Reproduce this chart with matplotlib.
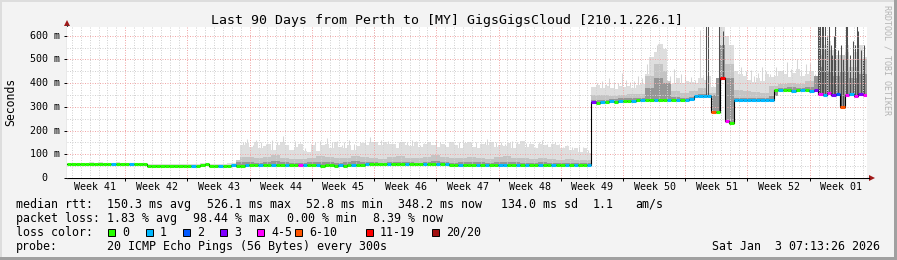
import numpy as np
import matplotlib
matplotlib.use("Agg")
from matplotlib import pyplot as plt
from matplotlib.patches import Rectangle, Polygon

# half-day samples, day 0 = Sun Oct 5 07:13, 90 days total
rtt_median = [
    58, 58, 58, 59, 58, 58, 58, 58, 58, 59, 58, 58, 58, 58,
    58, 58, 58, 58, 52, 52, 52, 52, 52, 52, 52, 52, 52, 52,
    52, 52, 53, 57, 52, 52, 52, 52, 52, 53, 52, 52, 53, 55,
    55, 55, 54, 56, 55, 55, 54, 55, 56, 55, 55, 54, 53, 53,
    53, 52, 55, 53, 52, 54, 52, 53, 54, 53, 56, 57, 58, 58,
    58, 57, 58, 58, 57, 58, 59, 58, 58, 57, 58, 58, 58, 57,
    58, 57, 56, 55, 55, 54, 55, 54, 55, 55, 54, 55, 54, 54,
    55, 54, 54, 55, 55, 54, 54, 55, 54, 55, 54, 55, 55, 54,
    54, 55, 54, 55, 55, 56, 320, 318, 320, 322, 323, 322, 324, 325,
    326, 325, 327, 329, 330, 328, 327, 329, 330, 328, 327, 329, 331, 330,
    332, 344, 345, 346, 344, 278, 278, 420, 240, 232, 329, 329, 328, 329,
    329, 330, 328, 329, 330, 371, 370, 372, 371, 369, 370, 372, 371, 369,
    370, 356, 352, 358, 349, 355, 300, 350, 353, 346, 356, 352,
]

# lost pings (of 20) per sample
loss_count = [
    0, 0, 0, 0, 0, 0, 0, 0, 0, 0, 1, 0, 0, 0,
    1, 0, 0, 0, 0, 0, 0, 0, 0, 0, 0, 0, 0, 0,
    1, 0, 0, 0, 0, 0, 1, 0, 0, 1, 0, 0, 1, 0,
    0, 1, 0, 0, 1, 0, 0, 1, 0, 0, 4, 1, 0, 0,
    1, 0, 0, 0, 0, 1, 0, 0, 1, 0, 0, 1, 0, 0,
    0, 0, 1, 0, 0, 0, 1, 0, 0, 0, 1, 0, 0, 1,
    0, 1, 0, 0, 1, 0, 0, 0, 1, 0, 1, 0, 0, 1,
    1, 0, 0, 1, 0, 1, 0, 0, 1, 0, 0, 1, 0, 0,
    1, 0, 1, 0, 0, 1, 3, 0, 1, 0, 1, 0, 1, 0,
    0, 1, 0, 1, 0, 0, 1, 0, 0, 1, 0, 1, 0, 1,
    1, 1, 1, 1, 1, 6, 0, 12, 4, 0, 1, 1, 1, 1,
    1, 1, 1, 1, 1, 0, 1, 0, 0, 1, 0, 1, 0, 1,
    3, 4, 1, 4, 3, 2, 6, 4, 1, 4, 3, 4,
]

# slowest ping per half day (ms)
smoke_top = [
    62, 63, 62, 64, 63, 66, 64, 68, 65, 64, 63, 66, 63, 62,
    63, 62, 64, 63, 58, 57, 58, 59, 57, 58, 60, 58, 57, 58,
    59, 58, 62, 64, 58, 57, 59, 60, 62, 64, 75, 140, 148, 132,
    152, 128, 135, 142, 120, 138, 150, 140, 118, 132, 145, 112, 110, 138,
    115, 138, 145, 126, 150, 132, 128, 140, 120, 135, 148, 140, 150, 150,
    138, 150, 142, 142, 128, 150, 140, 135, 150, 130, 145, 150, 138, 132,
    145, 130, 150, 138, 125, 148, 150, 132, 128, 145, 138, 152, 130, 140,
    135, 148, 128, 145, 155, 130, 142, 125, 145, 138, 132, 145, 140, 128,
    135, 120, 128, 110, 125, 105, 385, 392, 378, 388, 380, 375, 390, 383,
    388, 380, 392, 398, 440, 510, 530, 565, 545, 410, 395, 420, 400, 410,
    405, 400, 420, 415, 430, 385, 420, 645, 600, 560, 450, 440, 430, 415,
    405, 420, 410, 440, 425, 430, 450, 440, 425, 445, 460, 430, 440, 450,
    430, 600, 560, 580, 540, 520, 520, 560, 500, 530, 560, 510,
]

# daily smoke levels (ms)
smoke_mid = [
    61, 61, 61, 62, 61, 62, 62, 63, 62, 55, 55, 55, 55, 55, 55, 56, 55, 55, 56,
    90,
    88, 84, 90, 95, 86, 82, 80, 86, 92, 88, 84, 86, 94, 90, 85, 82, 88, 92, 86, 84,
    90, 95, 88, 84, 86, 90, 85, 82, 88, 91, 86, 84, 80, 86, 82, 78, 80, 77, 75,
    352, 350, 348, 352, 356, 354,
    430, 480, 450,
    365, 360, 368, 378, 360,
    560, 480,
    370, 365, 362, 360, 390,
    398, 402, 396, 408,
    520, 540, 500, 530, 470, 500,
]
smoke_dark = [
    59, 59, 59, 60, 59, 60, 60, 60, 60, 53, 53, 53, 53, 53, 53, 55, 53, 53, 54,
    66,
    66, 65, 68, 70, 66, 65, 64, 66, 69, 67, 64, 66, 70, 68, 66, 65, 67, 69, 66, 65,
    68, 70, 67, 65, 66, 68, 66, 64, 67, 69, 66, 65, 64, 66, 64, 62, 63, 62, 62,
    330, 328, 332, 336, 338, 337,
    380, 420, 400,
    340, 338, 342, 356, 350,
    640, 420,
    338, 336, 336, 337, 345,
    380, 382, 378, 384,
    470, 450, 430, 450, 420, 440,
]

# single slow pings sticking out of the smoke
spike_day = [19.8, 20.3, 20.9, 21.3, 21.8, 22.4, 22.8, 23.1, 23.6, 24.3, 24.9, 25.6,
             26.2, 26.8, 27.4, 27.9, 28.5, 28.9, 29.2, 29.8, 30.4, 30.9, 31.2, 31.7,
             32.3, 32.6, 33.0, 33.5, 34.1, 34.6, 35.3, 35.8, 36.1, 36.7, 37.4, 37.9,
             38.3, 38.8, 39.3, 39.7, 40.2, 40.7, 41.1, 41.5, 42.0, 42.5, 43.0, 43.5,
             44.1, 44.5, 45.0, 45.5, 46.0, 46.5, 47.0, 47.3, 47.8, 48.3, 48.8, 49.3,
             49.7, 50.1, 50.6, 51.1, 51.6, 52.1, 52.6, 53.1, 53.4, 54.0, 54.4, 54.9,
             55.4, 55.8, 56.3, 56.8, 57.2, 57.6, 58.1, 58.6,
             59.6, 60.2, 60.6, 61.0, 61.5, 62.0, 62.4, 62.9, 63.3, 63.8, 64.2, 64.7,
             65.3, 66.4, 67.8, 68.3, 68.7, 69.1, 69.5, 70.2, 70.6, 71.2, 71.5, 72.1,
             72.7, 74.9, 75.3, 75.8, 76.4, 76.9, 77.3, 77.7, 78.2, 78.6, 79.1, 79.8,
             80.5, 81.0, 81.4, 82.1, 82.6, 83.1, 83.6, 84.1]
spike_ms = [150, 165, 138, 160, 150, 145, 130, 160, 152, 177, 140, 158,
            148, 128, 142, 150, 155, 135, 168, 150, 155, 140, 150, 162,
            145, 135, 150, 158, 171, 148, 160, 140, 157, 145, 150, 138,
            150, 162, 155, 140, 148, 150, 135, 158, 152, 140, 152, 145,
            150, 160, 140, 150, 150, 138, 150, 165, 140, 152, 150, 145,
            135, 158, 150, 140, 148, 148, 132, 150, 161, 145, 138, 150,
            142, 130, 140, 132, 125, 135, 130, 118,
            400, 410, 395, 420, 405, 400, 445, 415, 405, 410, 430, 420,
            480, 560, 430, 460, 420, 440, 430, 425, 415, 625, 430, 640,
            390, 455, 440, 470, 450, 455, 430, 445, 470, 450, 440, 470,
            455, 490, 460, 502, 450, 480, 485, 440]
dark_spike_day = [71.9, 72.1, 73.3, 73.8, 84.5, 84.6, 84.7, 84.9, 85.0, 85.1, 85.3,
                  85.5, 85.7, 85.9, 86.1, 86.3, 86.4, 86.7, 87.1, 87.3, 87.6, 87.8,
                  88.1, 88.4, 88.7, 88.9, 89.0, 89.3, 89.5, 89.7]
dark_spike_ms = [640, 645, 645, 620, 645, 645, 645, 645, 620, 645, 640,
                 600, 645, 560, 520, 600, 645, 540, 560, 500, 645, 640,
                 520, 580, 560, 645, 620, 540, 500, 560]

week_names = ["Week 41", "Week 42", "Week 43", "Week 44", "Week 45", "Week 46", "Week 47",
              "Week 48", "Week 49", "Week 50", "Week 51", "Week 52", "Week 01"]
loss_labels = ["0", "1", "2", "3", "4-5", "6-10", "11-19", "20/20"]
loss_colors = ["#26ff00", "#00b8ff", "#0059ff", "#7e00ff", "#ff00ff", "#ff5500", "#ff0000", "#a01010"]


def loss_bin(n):
    if n <= 3:
        return n
    if n <= 5:
        return 4
    if n <= 10:
        return 5
    if n <= 19:
        return 6
    return 7


MONO = "DejaVu Sans Mono"
W, H = 897, 260
fig = plt.figure(figsize=(W / 100, H / 100), dpi=100, facecolor="#f3f3f3")

ov = fig.add_axes([0, 0, 1, 1])
ov.set_xlim(0, W)
ov.set_ylim(H, 0)
ov.axis("off")

ax = fig.add_axes([67 / W, (H - 178) / H, 800 / W, 151 / H])
ax.set_xlim(0, 90)
ax.set_ylim(0, 637)
ax.set_facecolor("white")
for s in ax.spines.values():
    s.set_visible(False)

# smoke
t = np.arange(len(rtt_median)) * 0.5
te = np.append(t, 90.0)
med = np.array(rtt_median, float)
top = np.array(smoke_top, float)
mid = np.minimum(np.repeat(smoke_mid, 2), top)
dark = np.minimum(np.repeat(smoke_dark, 2), mid)


def band(hi, color):
    ax.fill_between(te, np.append(med, med[-1]), np.append(hi, hi[-1]),
                    step="post", color=color, lw=0, zorder=1)


base = med[(np.array(spike_day) * 2).astype(int)]
ax.vlines(spike_day, base, spike_ms, colors="#d6d6d6", lw=0.75, zorder=0.9)
band(top, "#dedede")
band(mid, "#c4c4c4")
band(dark, "#969696")
base = med[(np.array(dark_spike_day) * 2).astype(int)]
ax.vlines(dark_spike_day, base, dark_spike_ms, colors="#505050", lw=0.75, zorder=1.2)

# grid
major_x = np.arange(6.55, 90, 7.0)
minor_x = [d for d in np.arange(0.55, 90, 1.0) if abs((d - 6.55) % 7) > 0.01]
dots = (0, (1, 1.5))
ax.vlines(minor_x, 0, 637, colors="#d2d2d2", linestyles=dots, lw=0.72, zorder=2)
ax.hlines(np.arange(50, 637, 100), 0, 90, colors="#d2d2d2", linestyles=dots, lw=0.72, zorder=2)
ax.vlines(major_x, 0, 637, colors="#f0a8a8", linestyles=dots, lw=0.72, zorder=2.1)
ax.hlines(np.arange(100, 637, 100), 0, 90, colors="#f0a8a8", linestyles=dots, lw=0.72, zorder=2.1)

# median coloured by loss
ax.step(te, np.append(med, med[-1]), where="post", color="black", lw=0.8, zorder=3)
cols = [loss_colors[loss_bin(n)] for n in loss_count]
ax.hlines(med, t, t + 0.5, colors=cols, lw=2.2, zorder=4, capstyle="butt")

ax.set_xticks(major_x)
ax.set_yticks(np.arange(0, 601, 100))
ax.tick_params(length=2.5, width=0.7, color="black", labelbottom=False, labelleft=False)

for v in range(0, 601, 100):
    lab = "0" if v == 0 else f"{v} m"
    xoff = -19.5 / 800 if v == 0 else -7 / 800
    ax.text(xoff, v, lab, transform=ax.get_yaxis_transform(), ha="right", va="center",
            family=MONO, fontsize=7.2)
for k, name in enumerate(week_names):
    ax.text(3.1 + 7 * k, -12.5 / 151, name, transform=ax.get_xaxis_transform(),
            ha="center", va="baseline", family=MONO, fontsize=7.2)

# axes with arrows
ov.plot([67, 869], [178, 178], color="black", lw=0.8)
ov.plot([67, 67], [178, 25], color="#444444", lw=0.8)
ov.add_patch(Polygon([[869, 175], [869, 181], [875, 178]], color="#a01818", lw=0))
ov.add_patch(Polygon([[64, 26], [70, 26], [67, 20]], color="#a01818", lw=0))

# frame
ov.add_patch(Rectangle((0, 0), W, 2, color="#dddddd", lw=0))
ov.add_patch(Rectangle((0, 0), 2, H, color="#dddddd", lw=0))
ov.add_patch(Rectangle((0, H - 3), W, 3, color="#a0a0a0", lw=0))
ov.add_patch(Rectangle((W - 3, 0), 3, H, color="#a0a0a0", lw=0))

ov.text(447, 24, "Last 90 Days from Perth to [MY] GigsGigsCloud [210.1.226.1]",
        ha="center", va="baseline", family=MONO, fontsize=9.5)
ov.text(11, 102, "Seconds", rotation=90, ha="center", va="center", family=MONO, fontsize=8.3)
ov.text(887, 5, "RRDTOOL / TOBI OETIKER", rotation=270, ha="center", va="top",
        family=MONO, fontsize=6, color="#b4b4b4")

row1 = [("median rtt:", 16), ("150.3 ms avg", 107), ("526.1 ms max", 207), ("52.8 ms min", 306),
        ("348.2 ms now", 398), ("134.0 ms sd", 501), ("1.1", 593), ("am/s", 635)]
row2 = [("packet loss:", 16), ("1.83 % avg", 107), ("98.44 % max", 193), ("0.00 % min", 287),
        ("8.39 % now", 373)]
row4 = [("probe:", 16), ("20 ICMP Echo Pings (56 Bytes) every 300s", 107)]
for row, yb in [(row1, 207.7), (row2, 221.7), (row4, 249.7)]:
    for txt, x in row:
        ov.text(x, yb, txt, ha="left", va="baseline", family=MONO, fontsize=8.4)

ov.text(16, 235.7, "loss color:", ha="left", va="baseline", family=MONO, fontsize=8.4)
box_x = [108, 145.5, 182.7, 220, 257.3, 295, 366, 432]
for bx, lab, c in zip(box_x, loss_labels, loss_colors):
    ov.add_patch(Rectangle((bx, 228.5), 7, 7, facecolor=c, edgecolor="black", lw=0.7))
    ov.text(bx + 14, 235.7, lab, ha="left", va="baseline", family=MONO, fontsize=8.4)

ov.text(880, 249.7, "Sat Jan  3 07:13:26 2026", ha="right", va="baseline", family=MONO, fontsize=8.4)

fig.savefig("out.png", dpi=100, facecolor=fig.get_facecolor())
